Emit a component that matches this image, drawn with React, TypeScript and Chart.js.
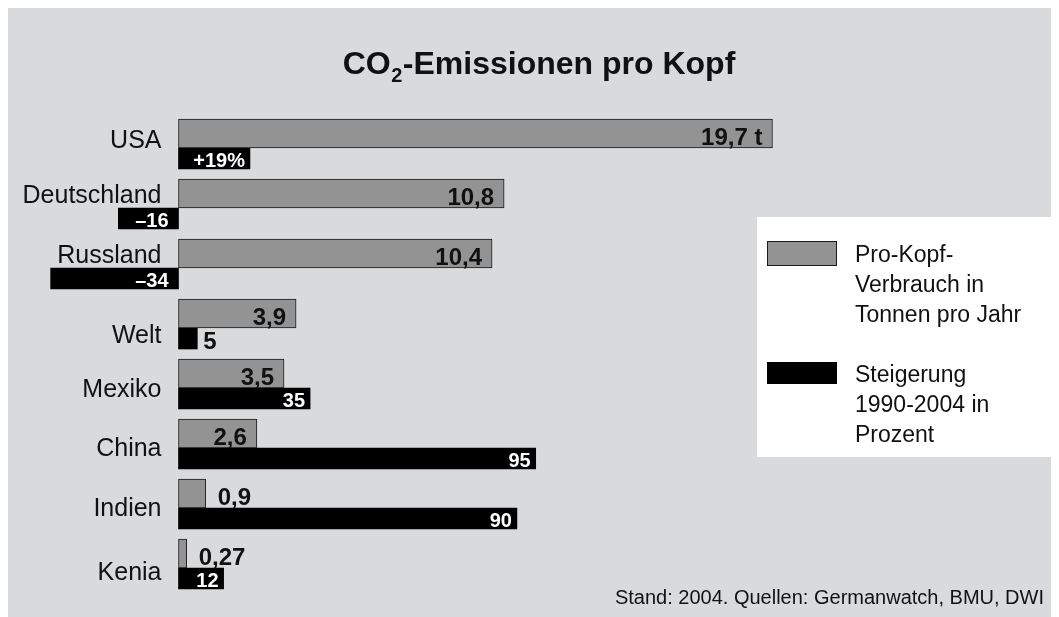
import React, { useEffect, useRef } from "react";
import { Chart, registerables } from "chart.js";

Chart.register(...registerables);

// ---- data ----
const categories = ["USA", "Deutschland", "Russland", "Welt", "Mexiko", "China", "Indien", "Kenia"];
const perCapitaTonnes = [19.7, 10.8, 10.4, 3.9, 3.5, 2.6, 0.9, 0.27];
const changePercent = [19, -16, -34, 5, 35, 95, 90, 12];
const seriesNames = ["Pro-Kopf-Verbrauch in Tonnen pro Jahr", "Steigerung 1990-2004 in Prozent"];
const legendLines1 = ["Pro-Kopf-", "Verbrauch in", "Tonnen pro Jahr"];
const legendLines2 = ["Steigerung", "1990-2004 in", "Prozent"];
const titleMain = "CO";
const titleSub = "2";
const titleRest = "-Emissionen pro Kopf";
const sourceNote = "Stand: 2004. Quellen: Germanwatch, BMU, DWI";

// ---- layout / style constants ----
const W = 1051;
const H = 609;
const BG = "#d9dadc";
const GRAY = "#939393";
const FONT = '"Liberation Sans", Arial, Helvetica, sans-serif';
const ZERO_X = 170.5; // canvas px of value 0
const PX_PER_T = 30.15;
const PX_PER_PCT = 3.76;
const LABEL_DY = [0, -5, -5, 15, 9, 8, 8, 12];

const fmtT = (v: number, i: number) => String(v).replace(".", ",") + (i === 0 ? " t" : "");
const fmtPct = (v: number, i: number) =>
  v < 0 ? "\u2013" + Math.abs(v) : i === 0 ? "+" + v + "%" : String(v);

const bgPlugin = {
  id: "bg",
  beforeDraw(chart: any) {
    const ctx = chart.ctx;
    ctx.save();
    ctx.fillStyle = BG;
    ctx.fillRect(0, 0, chart.width, chart.height);
    ctx.restore();
  },
};

const decorPlugin = {
  id: "decor",
  afterDatasetsDraw(chart: any) {
    const ctx = chart.ctx;
    const y = chart.scales.y;
    const x = chart.scales.x;
    const zero = x.getPixelForValue(0);
    ctx.save();

    // category labels
    ctx.fillStyle = "#111";
    ctx.font = `25px ${FONT}`;
    ctx.textAlign = "right";
    ctx.textBaseline = "alphabetic";
    categories.forEach((c, i) => {
      ctx.fillText(c, zero - 17, y.getPixelForValue(i) + LABEL_DY[i]);
    });

    // gray value labels
    const m0 = chart.getDatasetMeta(0);
    ctx.font = `bold 24px ${FONT}`;
    m0.data.forEach((bar: any, i: number) => {
      const p = bar.getProps(["x", "y", "base", "height"], true);
      const txt = fmtT(perCapitaTonnes[i], i);
      const tw = ctx.measureText(txt).width;
      const bw = p.x - p.base;
      const by = p.y + p.height / 2 - 3;
      ctx.fillStyle = "#111";
      if (tw + 20 < bw) {
        ctx.textAlign = "right";
        ctx.fillText(txt, p.x - 10, by);
      } else {
        ctx.textAlign = "left";
        ctx.fillText(txt, p.x + 12, by);
      }
    });

    // black value labels
    const m1 = chart.getDatasetMeta(1);
    m1.data.forEach((bar: any, i: number) => {
      const p = bar.getProps(["x", "y", "base", "height"], true);
      const v = changePercent[i];
      const txt = fmtPct(v, i);
      ctx.font = `bold 20px ${FONT}`;
      const tw = ctx.measureText(txt).width;
      const bw = Math.abs(p.x - p.base);
      const by = p.y + p.height / 2 - 2;
      if (v < 0) {
        ctx.fillStyle = "#fff";
        ctx.textAlign = "right";
        ctx.fillText(txt, p.base - 10, by);
      } else if (tw + 10 < bw) {
        ctx.fillStyle = "#fff";
        ctx.textAlign = "right";
        ctx.fillText(txt, p.x - 5, by);
      } else {
        ctx.font = `bold 24px ${FONT}`;
        ctx.fillStyle = "#111";
        ctx.textAlign = "left";
        ctx.fillText(txt, p.x + 6, by + 2);
      }
    });

    // title
    ctx.fillStyle = "#111";
    ctx.textAlign = "left";
    const fMain = `bold 32px ${FONT}`;
    const fSub = `bold 20px ${FONT}`;
    ctx.font = fMain;
    const w1 = ctx.measureText(titleMain).width;
    const w3 = ctx.measureText(titleRest).width;
    ctx.font = fSub;
    const w2 = ctx.measureText(titleSub).width + 1;
    const tx = 531 - (w1 + w2 + w3) / 2;
    ctx.font = fMain;
    ctx.fillText(titleMain, tx, 65.5);
    ctx.font = fSub;
    ctx.fillText(titleSub, tx + w1 + 0.5, 74);
    ctx.font = fMain;
    ctx.fillText(titleRest, tx + w1 + w2, 65.5);

    // legend
    const ds = chart.data.datasets;
    ctx.fillStyle = "#fff";
    ctx.fillRect(749, 209, W - 749, 240);
    ctx.fillStyle = ds[0].backgroundColor;
    ctx.fillRect(759, 233, 70, 25);
    ctx.strokeStyle = ds[0].borderColor;
    ctx.lineWidth = 1;
    ctx.strokeRect(759.5, 233.5, 69, 24);
    ctx.fillStyle = ds[1].backgroundColor;
    ctx.fillRect(759, 354, 70, 22);
    ctx.fillStyle = "#111";
    ctx.font = `23px ${FONT}`;
    legendLines1.forEach((l, i) => ctx.fillText(l, 847, 254 + i * 30));
    legendLines2.forEach((l, i) => ctx.fillText(l, 847, 374 + i * 30));

    // source
    ctx.font = `20px ${FONT}`;
    ctx.textAlign = "right";
    ctx.fillText(sourceNote, 1036, 596);

    ctx.restore();
  },
};

export default function App() {
  const ref = useRef<HTMLCanvasElement>(null);
  useEffect(() => {
    document.documentElement.style.overflow = "hidden";
    const canvas = ref.current!;
    const chart = new Chart(canvas, {
      type: "bar",
      data: {
        labels: categories,
        datasets: [
          {
            label: seriesNames[0],
            data: perCapitaTonnes,
            xAxisID: "x",
            backgroundColor: GRAY,
            borderColor: "#1a1a1a",
            borderWidth: 1,
            borderSkipped: false,
            barThickness: 29,
          },
          {
            label: seriesNames[1],
            data: changePercent,
            xAxisID: "x2",
            backgroundColor: "#000",
            borderColor: "#333",
            borderWidth: 0,
            barThickness: 21,
          },
        ],
      },
      options: {
        responsive: false,
        animation: false,
        indexAxis: "y",
        layout: { padding: { left: 0, right: 0, top: 110, bottom: 19 } },
        plugins: {
          legend: { display: false },
          title: { display: false },
          tooltip: { enabled: false },
        },
        scales: {
          y: { type: "category", display: false, offset: true },
          x: {
            type: "linear",
            display: false,
            min: -ZERO_X / PX_PER_T,
            max: (W - ZERO_X) / PX_PER_T,
          },
          x2: {
            type: "linear",
            display: false,
            min: -ZERO_X / PX_PER_PCT,
            max: (W - ZERO_X) / PX_PER_PCT,
          },
        },
      },
      plugins: [bgPlugin, decorPlugin],
    } as any);
    return () => chart.destroy();
  }, []);
  return <canvas ref={ref} width={W} height={H} style={{ display: "block", width: W, height: H }} />;
}
